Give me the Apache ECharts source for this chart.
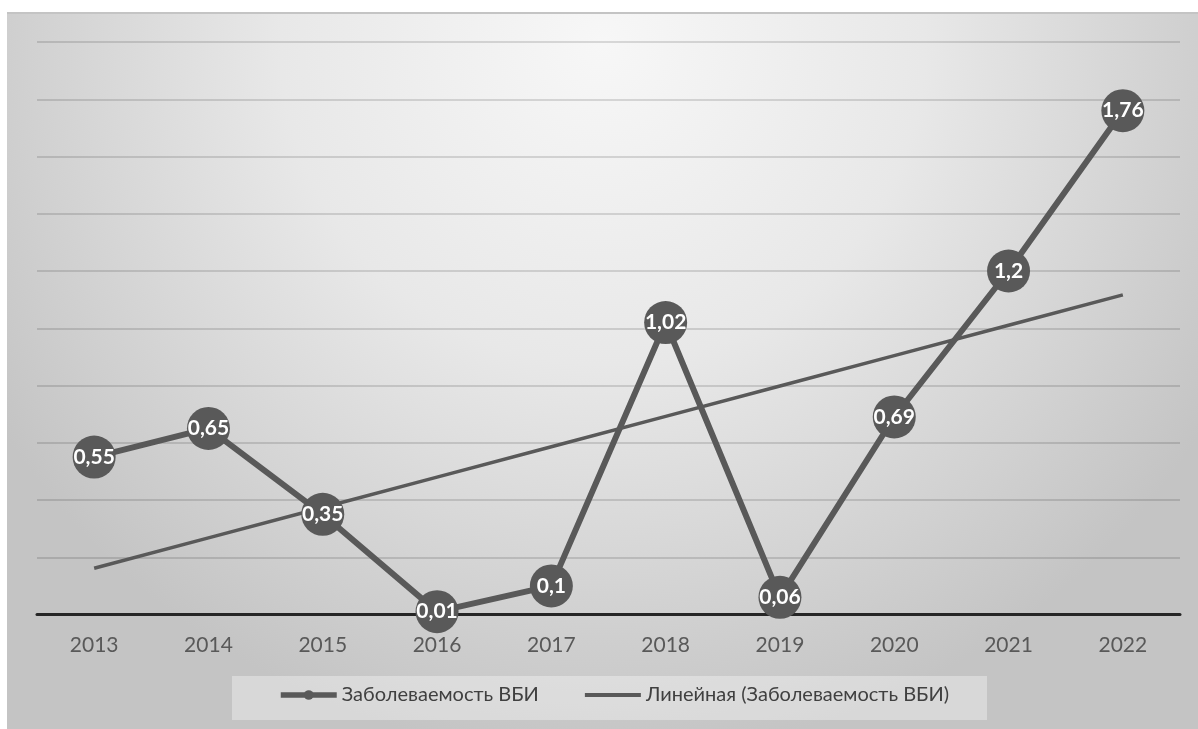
<!DOCTYPE html>
<html>
<head>
<meta charset="utf-8">
<script src="https://cdn.jsdelivr.net/npm/echarts@6/dist/echarts.min.js"></script>
<style>
  html, body { margin: 0; padding: 0; background: #ffffff; width: 1198px; height: 729px; overflow: hidden; }
  #chart { position: absolute; left: 7px; top: 12px; width: 1191px; height: 717px;
           border-top: 2px solid #c4c4c4; box-sizing: border-box; }
</style>
</head>
<body>
<div id="chart"></div>
<script>
// Годы наблюдения
const years = ['2013', '2014', '2015', '2016', '2017', '2018', '2019', '2020', '2021', '2022'];
// Заболеваемость ВБИ по годам
const incidence = [0.55, 0.65, 0.35, 0.01, 0.1, 1.02, 0.06, 0.69, 1.2, 1.76];
// Шкала значений
const yMin = 0;
const yMax = 2;
const yStep = 0.2;

const seriesName = 'Заболеваемость ВБИ';
const trendName = 'Линейная (Заболеваемость ВБИ)';

// Линейный тренд методом наименьших квадратов
function linearTrend(values) {
  const n = values.length;
  const xs = values.map((_, i) => i + 1);
  const mx = xs.reduce((a, b) => a + b, 0) / n;
  const my = values.reduce((a, b) => a + b, 0) / n;
  let sxy = 0, sxx = 0;
  for (let i = 0; i < n; i++) {
    sxy += (xs[i] - mx) * (values[i] - my);
    sxx += (xs[i] - mx) * (xs[i] - mx);
  }
  const k = sxy / sxx;
  const b = my - k * mx;
  return xs.map(x => +(k * x + b).toFixed(4));
}
const trend = linearTrend(incidence);

const dark = '#595959';
const fontMain = 'Lato, "Open Sans", "Noto Sans", sans-serif';

const chart = echarts.init(document.getElementById('chart'), null, { renderer: 'canvas' });

chart.setOption({
  animation: false,
  backgroundColor: {
    type: 'radial', x: 0.5, y: 0.04, r: 1.0,
    colorStops: [
      { offset: 0, color: '#f7f7f7' },
      { offset: 0.45, color: '#e8e8e8' },
      { offset: 1, color: '#c4c4c4' }
    ]
  },
  grid: { left: 30, right: 18, top: 28, bottom: 114.5 },
  graphic: [{
    type: 'rect', silent: true, z: 0,
    shape: { x: 225, y: 662, width: 755, height: 44 },
    style: { fill: 'rgba(255,255,255,0.35)' }
  }],
  legend: {
    left: 271, top: 671, padding: 0,
    itemWidth: 56, itemHeight: 12, itemGap: 44,
    textStyle: { color: '#404040', fontSize: 20, fontFamily: fontMain },
    data: [
      { name: seriesName,
        itemStyle: { color: dark },
        lineStyle: { color: dark, width: 5.5 } },
      { name: trendName,
        itemStyle: { color: dark, opacity: 0 },
        lineStyle: { color: dark, width: 4 } }
    ]
  },
  xAxis: {
    type: 'category',
    data: years,
    boundaryGap: true,
    axisLine: { lineStyle: { color: '#262626', width: 3 } },
    axisTick: { show: false },
    axisLabel: { color: dark, fontSize: 21, fontFamily: fontMain, margin: 20 },
    z: 1
  },
  yAxis: {
    type: 'value',
    min: yMin, max: yMax, interval: yStep,
    axisLine: { show: false },
    axisTick: { show: false },
    axisLabel: { show: false },
    splitLine: { lineStyle: { color: 'rgba(0,0,0,0.13)', width: 2 } }
  },
  series: [
    {
      name: trendName,
      type: 'line',
      data: trend,
      symbol: 'none',
      lineStyle: { color: dark, width: 3.5 },
      itemStyle: { color: dark },
      z: 2
    },
    {
      name: seriesName,
      type: 'line',
      data: incidence,
      symbol: 'circle',
      symbolSize: 43,
      lineStyle: { color: dark, width: 6 },
      itemStyle: { color: dark },
      label: {
        show: true, position: 'inside',
        color: '#ffffff', fontWeight: 'bold', fontSize: 21, fontFamily: fontMain,
        formatter: p => String(p.value).replace('.', ',')
      },
      z: 3
    }
  ]
});
</script>
</body>
</html>
